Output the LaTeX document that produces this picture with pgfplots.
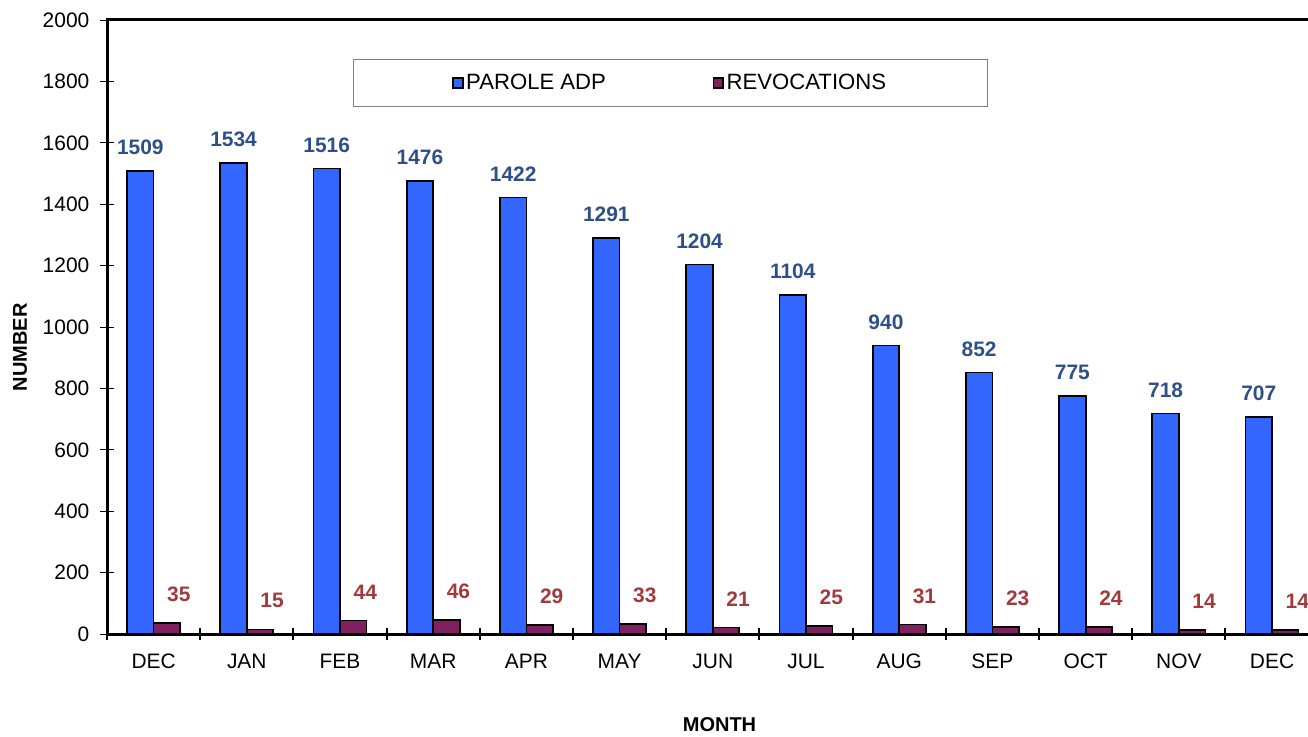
\documentclass[border=0pt]{standalone}
\usepackage{pgfplots}
\pgfplotsset{compat=1.18}
\usepackage{fontspec}
\setmainfont{Liberation Sans}
\definecolor{barblue}{HTML}{3366FF}
\definecolor{barpurple}{HTML}{802060}
\definecolor{lblblue}{HTML}{2E5088}
\definecolor{lblred}{HTML}{A03A3C}
\begin{document}
\begin{tikzpicture}
\useasboundingbox (0,0) rectangle (981pt,552pt);
\begin{axis}[
  at={(80.25pt,76.5pt)}, anchor=south west,
  scale only axis, width=900.75pt, height=460.5pt,
  xmin=-0.5, xmax=12.386, ymin=0, ymax=2000,
  ybar=0pt, bar width=19.9pt,
  clip=false,
  axis line style={draw=none},
  tick align=center,
  xtick pos=bottom, ytick pos=left,
  xtick={0,...,12},
  xticklabels={DEC,JAN,FEB,MAR,APR,MAY,JUN,JUL,AUG,SEP,OCT,NOV,DEC},
  major x tick style={draw=none},
  minor xtick={-0.5,0.5,...,11.5},
  minor x tick style={line width=1.5pt, black},
  minor tick length=9pt,
  ytick={0,200,...,2000},
  major tick length=10.5pt,
  y tick style={line width=0.6pt, black},
  tick label style={font=\fontsize{15.7}{18}\selectfont},
  xticklabel style={yshift=-6pt},
  yticklabel style={xshift=-4.5pt},
  /pgf/number format/assume math mode=true,
  /pgf/number format/1000 sep={},
  xlabel={MONTH}, ylabel={NUMBER},
  xlabel style={font=\bfseries\fontsize{15}{18}\selectfont, at={(axis description cs:0.51,-0.1482)}, anchor=center},
  ylabel style={font=\bfseries\fontsize{15}{18}\selectfont, at={(axis description cs:-0.0724,0.467)}, anchor=center},
  legend columns=2,
  legend style={at={(axis description cs:0,1)}, anchor=north west, xshift=184.5pt, yshift=-29.25pt,
    draw=gray, line width=0.75pt, inner xsep=74pt, inner ysep=9pt,
    font=\fontsize{16.6}{19}\selectfont,
    /tikz/every even column/.append style={column sep=78pt}},
  legend image code/.code={\draw[#1,/tikz/.cd,line width=1.3pt] (0pt,-3.8pt) rectangle (7.2pt,3.8pt);},
]
\addplot[fill=barblue, draw=black, line width=1.3pt, nodes near coords,
  every node near coord/.append style={font=\bfseries\fontsize{15.7}{18}\selectfont, text=lblblue, anchor=center, yshift=17.5pt}]
  coordinates {(0,1509) (1,1534) (2,1516) (3,1476) (4,1422) (5,1291) (6,1204) (7,1104) (8,940) (9,852) (10,775) (11,718) (12,707)};
\addlegendentry{PAROLE ADP}
\addplot[fill=barpurple, draw=black, line width=1.3pt, nodes near coords,
  every node near coord/.append style={font=\bfseries\fontsize{15.7}{18}\selectfont, text=lblred, anchor=center, xshift=9pt, yshift=21.5pt}]
  coordinates {(0,35) (1,15) (2,44) (3,46) (4,29) (5,33) (6,21) (7,25) (8,31) (9,23) (10,24) (11,14) (12,14)};
\addlegendentry{REVOCATIONS}
\draw[line width=2.25pt] (rel axis cs:1,1) -- (rel axis cs:0,1) -- (rel axis cs:0,0) -- (rel axis cs:1,0);
\end{axis}
\end{tikzpicture}
\end{document}
